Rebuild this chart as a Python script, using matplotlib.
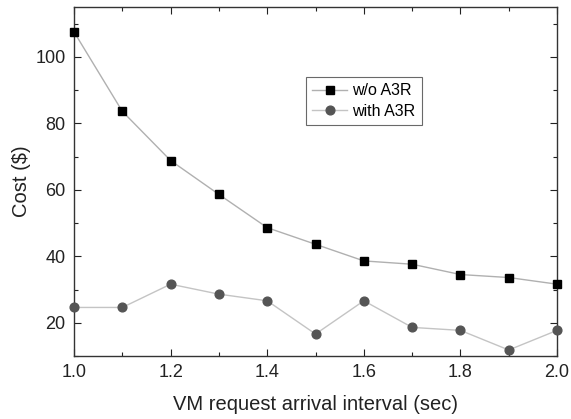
import matplotlib
matplotlib.use('Agg')
import matplotlib.pyplot as plt
from matplotlib.ticker import MultipleLocator

# ------------------------------------------------------------
# Data
# ------------------------------------------------------------

interval = [1.0, 1.1, 1.2, 1.3, 1.4, 1.5, 1.6, 1.7, 1.8, 1.9, 2.0]
cost_without = [107.5, 83.6, 68.8, 58.6, 48.6, 43.6, 38.6, 37.6, 34.5, 33.6, 31.6]
cost_with = [24.6, 24.6, 31.6, 28.6, 26.6, 16.6, 26.6, 18.6, 17.7, 11.8, 17.7]

plt.rcParams['font.family'] = ['Liberation Sans', 'DejaVu Sans']

fig = plt.figure(figsize=(5.71, 4.19), dpi=100)
ax = fig.add_axes([0.1296, 0.1504, 0.846, 0.833])

ax.plot(interval, cost_without, color='#b0b0b0', lw=1.0, marker='s', ms=5.8,
        mfc='black', mec='black', label='w/o A3R', clip_on=False, zorder=3)
ax.plot(interval, cost_with, color='#c4c4c4', lw=1.0, marker='o', ms=6.3,
        mfc='#555555', mec='#555555', label='with A3R', clip_on=False, zorder=3)

ax.set_xlim(1.0, 2.0)
ax.set_ylim(10, 115)
ax.xaxis.set_major_locator(MultipleLocator(0.2))
ax.xaxis.set_minor_locator(MultipleLocator(0.1))
ax.yaxis.set_minor_locator(MultipleLocator(10))
ax.set_yticks([20, 40, 60, 80, 100])
ax.xaxis.set_major_formatter(matplotlib.ticker.FormatStrFormatter('%.1f'))

ax.tick_params(which='both', direction='in', top=True, right=True, labelsize=13,
               colors='#222222', width=0.8)
ax.tick_params(which='major', length=5, pad=6)
ax.tick_params(which='minor', length=3)
for s in ax.spines.values():
    s.set_color('#333333')
    s.set_linewidth(1.0)

ax.set_xlabel('VM request arrival interval (sec)', fontsize=14.5, color='#222222', labelpad=10)
ax.set_ylabel('Cost ($)', fontsize=14.5, color='#222222', labelpad=3)

leg = ax.legend(loc='upper left', bbox_to_anchor=(0.48, 0.80), fontsize=11.5,
                frameon=True, fancybox=False, handlelength=2.2, borderpad=0.4,
                labelspacing=0.35, handletextpad=0.3, borderaxespad=0)
leg.get_frame().set_edgecolor('#444444')
leg.get_frame().set_linewidth(0.8)

fig.savefig('out.png', dpi=100)
